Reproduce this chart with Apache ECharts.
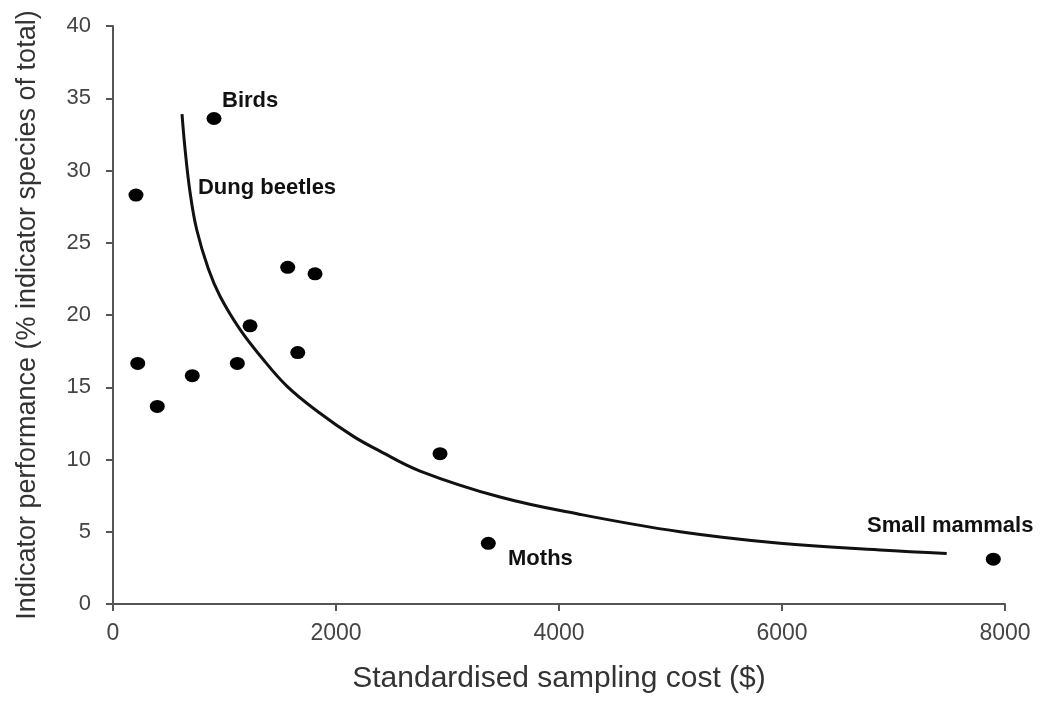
<!DOCTYPE html>
<html>
<head>
    <meta charset="utf-8" />
    <title>Indicator performance vs sampling cost</title>
    <script src="https://cdn.jsdelivr.net/npm/echarts/dist/echarts.min.js"></script>
</head>
<body style="margin:0;background:#fff">
    <div id="main" style="width:1052px;height:702px"></div>
    <script type="text/javascript">

    // taxa: sampling cost ($) and indicator performance (%)
    var costs  = [906, 206, 1567, 1812, 1229, 1657, 1115, 222, 711, 397, 2933, 3366, 7895];
    var perf   = [33.6, 28.3, 23.3, 22.85, 19.25, 17.4, 16.65, 16.65, 15.8, 13.67, 10.4, 4.2, 3.1];

    // fitted curve
    var curveX = [619, 646, 691, 751, 855, 960, 1139, 1318, 1557, 1857, 2156, 2365, 2754, 3471, 4189, 5085, 5982, 6879, 7477];
    var curveY = [33.9, 31.5, 28.5, 25.9, 23.2, 21.3, 19.0, 17.2, 15.1, 13.2, 11.6, 10.7, 9.2, 7.4, 6.2, 5.0, 4.2, 3.74, 3.5];

    // text annotations
    var noteNames = ['Birds', 'Dung beetles', 'Moths', 'Small mammals'];
    var noteX = [978, 762, 3543, 6763];
    var noteY = [34.8, 28.8, 3.12, 5.4];

    var xTicks = [0, 2000, 4000, 6000, 8000];
    var yTicks = [0, 5, 10, 15, 20, 25, 30, 35, 40];

    var myChart = echarts.init(document.getElementById('main'));

    var pts = costs.map(function (c, i) { return [c, perf[i]]; });
    var curve = curveX.map(function (c, i) { return [c, curveY[i]]; });
    var notes = noteNames.map(function (n, i) { return { name: n, value: [noteX[i], noteY[i]] }; });

    var axisCommon = {
        axisLine: { show: true, lineStyle: { color: '#555', width: 2 } },
        axisTick: { show: true, length: 7, lineStyle: { color: '#555', width: 2 } },
        splitLine: { show: false },
        nameTextStyle: { fontFamily: 'Liberation Sans', fontSize: 27, color: '#333' }
    };

    var option = {
        animation: false,
        textStyle: { fontFamily: 'Liberation Sans' },
        grid: { left: 113, right: 47, top: 26, bottom: 98 },
        xAxis: Object.assign({}, axisCommon, {
            type: 'value',
            min: xTicks[0],
            max: xTicks[xTicks.length - 1],
            interval: 2000,
            name: 'Standardised sampling cost ($)',
            nameLocation: 'middle',
            nameGap: 60,
            nameTextStyle: { fontFamily: 'Liberation Sans', fontSize: 30, color: '#333' },
            axisLabel: { fontSize: 23, color: '#444', margin: 18, formatter: function (v) { return String(v); } }
        }),
        yAxis: Object.assign({}, axisCommon, {
            type: 'value',
            min: yTicks[0],
            max: yTicks[yTicks.length - 1],
            interval: 5,
            name: 'Indicator performance (% indicator species of total)',
            nameLocation: 'middle',
            nameGap: 72,
            axisLabel: { fontSize: 22, color: '#444', margin: 22 }
        }),
        series: [
            {
                name: 'fit',
                type: 'line',
                data: curve,
                smooth: 0.4,
                showSymbol: false,
                lineStyle: { color: '#111', width: 3 }
            },
            {
                name: 'taxa',
                type: 'scatter',
                data: pts,
                symbol: 'circle',
                symbolSize: [15, 13],
                itemStyle: { color: '#000', opacity: 1 }
            },
            {
                name: 'notes',
                type: 'scatter',
                data: notes,
                symbolSize: 0,
                itemStyle: { opacity: 1 },
                label: {
                    show: true,
                    formatter: '{b}',
                    position: 'right',
                    distance: 0,
                    fontFamily: 'Liberation Sans',
                    fontWeight: 'bold',
                    fontSize: 22,
                    color: '#111'
                }
            }
        ]
    };

    myChart.setOption(option);
    </script>
</body>
</html>
